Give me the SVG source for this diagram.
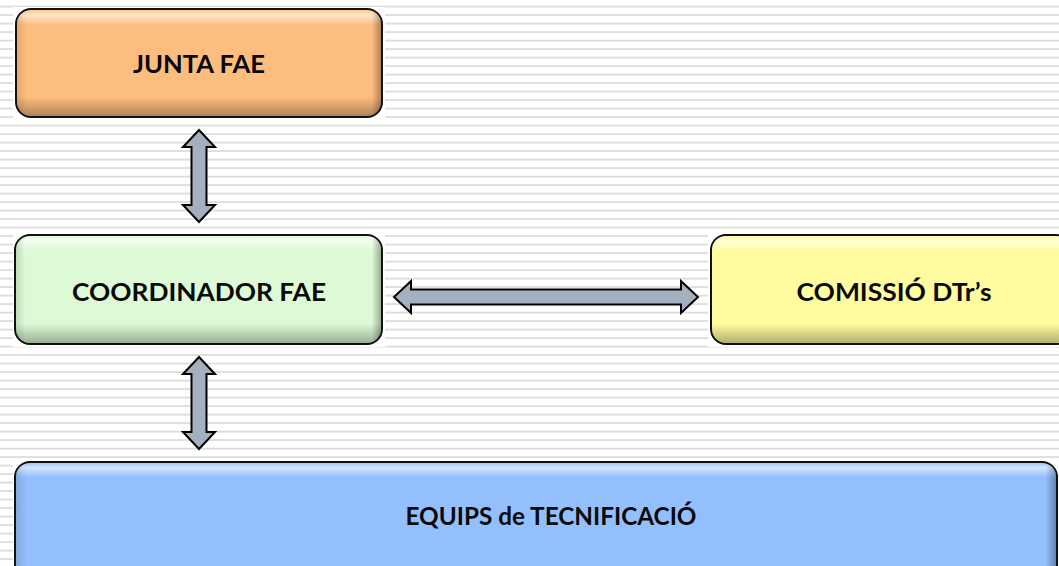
<svg xmlns="http://www.w3.org/2000/svg" width="1059" height="566" viewBox="0 0 1059 566">
<defs>
<pattern id="stripes" patternUnits="userSpaceOnUse" x="0" y="0" width="20" height="8.5">
<rect x="0" y="5.7" width="20" height="1.8" fill="#dcdcdc"/>
</pattern>
<linearGradient id="vshade" x1="0" y1="0" x2="0" y2="1">
<stop offset="0" stop-color="#fff" stop-opacity="0.15"/>
<stop offset="0.05" stop-color="#fff" stop-opacity="0.6"/>
<stop offset="0.14" stop-color="#fff" stop-opacity="0"/>
<stop offset="0.82" stop-color="#000" stop-opacity="0"/>
<stop offset="1" stop-color="#000" stop-opacity="0.3"/>
</linearGradient>
<linearGradient id="hshade" x1="0" y1="0" x2="1" y2="0">
<stop offset="0" stop-color="#000" stop-opacity="0.12"/>
<stop offset="0.025" stop-color="#000" stop-opacity="0"/>
<stop offset="0.975" stop-color="#000" stop-opacity="0"/>
<stop offset="1" stop-color="#000" stop-opacity="0.3"/>
</linearGradient>
<linearGradient id="hshadeWide" x1="0" y1="0" x2="1" y2="0">
<stop offset="0" stop-color="#000" stop-opacity="0.12"/>
<stop offset="0.01" stop-color="#000" stop-opacity="0"/>
<stop offset="0.99" stop-color="#000" stop-opacity="0"/>
<stop offset="1" stop-color="#000" stop-opacity="0.3"/>
</linearGradient>
<linearGradient id="vshadeTall" x1="0" y1="0" x2="0" y2="1">
<stop offset="0" stop-color="#fff" stop-opacity="0.15"/>
<stop offset="0.04" stop-color="#fff" stop-opacity="0.6"/>
<stop offset="0.12" stop-color="#fff" stop-opacity="0"/>
<stop offset="1" stop-color="#000" stop-opacity="0"/>
</linearGradient>
</defs>
<style>
.box{stroke:#111;stroke-width:2}
.shade{stroke:none}
.label{font-family:"Century Gothic","URW Gothic","Lato","DejaVu Sans",sans-serif;font-weight:bold;font-size:24.5px;fill:#0a0a0a;text-anchor:middle}
.arrow{fill:#a3b0bf;stroke:#000;stroke-width:2;stroke-linejoin:miter}
.backdrop{fill:#fff}
</style>
<rect width="1059" height="566" fill="#fff"/>
<rect width="1059" height="566" fill="url(#stripes)"/>

<g id="node-junta">
<rect class="backdrop" x="13" y="7" width="372" height="114"/>
<rect class="box" x="16" y="9" width="366" height="108" rx="15" fill="#fdbd7f"/>
<rect class="shade" x="17" y="10" width="364" height="106" rx="14" fill="url(#vshade)"/>
<rect class="shade" x="17" y="10" width="364" height="106" rx="14" fill="url(#hshade)"/>
<text class="label" x="199" y="73" textLength="132" lengthAdjust="spacingAndGlyphs">JUNTA FAE</text>
</g>

<g id="node-coordinador">
<rect class="backdrop" x="13" y="231" width="372" height="116"/>
<rect class="box" x="15" y="235" width="367" height="109" rx="15" fill="#ddf9d5"/>
<rect class="shade" x="16" y="236" width="365" height="107" rx="14" fill="url(#vshade)"/>
<rect class="shade" x="16" y="236" width="365" height="107" rx="14" fill="url(#hshade)"/>
<text class="label" x="199" y="301" textLength="254" lengthAdjust="spacingAndGlyphs">COORDINADOR FAE</text>
</g>

<g id="node-comissio">
<rect class="backdrop" x="708" y="231" width="360" height="116"/>
<rect class="box" x="711" y="235" width="360" height="109" rx="15" fill="#fefc9e"/>
<rect class="shade" x="712" y="236" width="358" height="107" rx="14" fill="url(#vshade)"/>
<text class="label" x="894" y="301" textLength="195" lengthAdjust="spacingAndGlyphs">COMISSIÓ DTr’s</text>
</g>

<g id="node-equips">
<rect class="backdrop" x="13" y="458" width="1046" height="110"/>
<rect class="box" x="15" y="462" width="1042" height="120" rx="15" fill="#93bffd"/>
<rect class="shade" x="16" y="463" width="1040" height="118" rx="14" fill="url(#vshadeTall)"/>
<rect class="shade" x="16" y="463" width="1040" height="118" rx="14" fill="url(#hshadeWide)"/>
<text class="label" x="551" y="525" textLength="291" lengthAdjust="spacingAndGlyphs">EQUIPS de TECNIFICACIÓ</text>
</g>

<g id="connectors">
<polygon class="arrow" points="199,130 215,147 206.5,147 206.5,205 215,205 199,222 183,205 191.5,205 191.5,147 183,147"/>
<polygon class="arrow" points="199,357 215,374 206.5,374 206.5,432 215,432 199,449 183,432 191.5,432 191.5,374 183,374"/>
<polygon class="arrow" points="394,297 411,281 411,289.5 681,289.5 681,281 698,297 681,313 681,304.5 411,304.5 411,313"/>
</g>
</svg>
